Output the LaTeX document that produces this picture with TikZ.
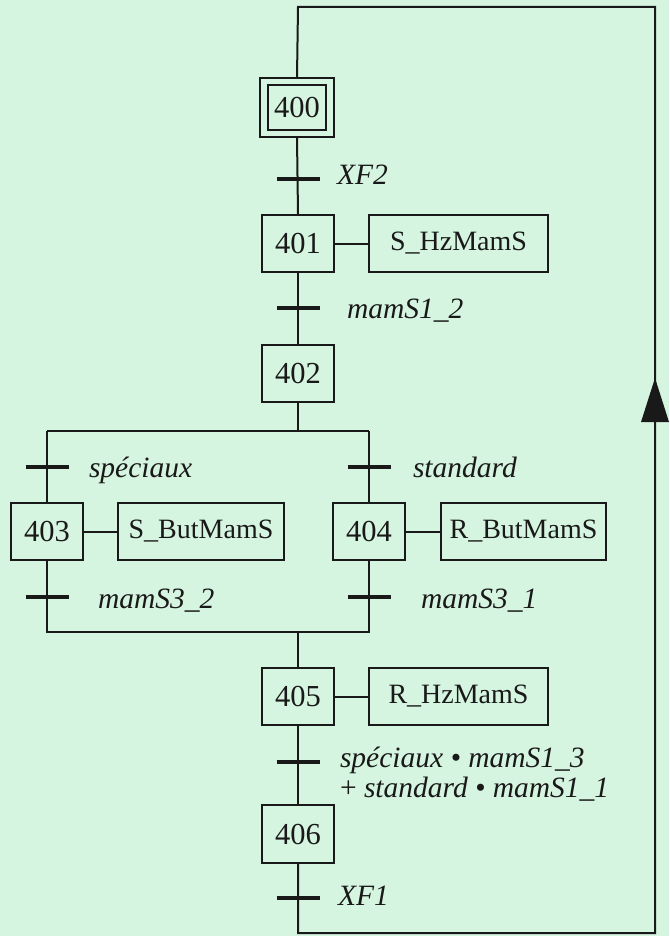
\documentclass[tikz,border=0pt]{standalone}
\usepackage{fontspec}
\setmainfont{Liberation Serif}
\definecolor{bg}{RGB}{214,245,224}
\definecolor{ink}{RGB}{25,25,25}
\begin{document}
\begin{tikzpicture}[x=1pt,y=-1pt, line width=2pt, ink,
  every node/.style={font=\fontsize{28}{30}\selectfont},
  stepbox/.style={draw, rectangle, minimum width=72pt, minimum height=57pt, inner sep=0pt, font=\fontsize{30.5}{32}\selectfont},
  actbox/.style={draw, rectangle, minimum height=57pt, inner sep=0pt},
  trbar/.style={line width=4.8pt},
  lbl/.style={anchor=base west, inner sep=0pt, font=\fontsize{29.5}{32}\selectfont\itshape}]

\fill[bg] (0,0) rectangle (669,936);
\useasboundingbox (0,0) rectangle (669,936);

% steps and actions
\node[stepbox, minimum width=74pt, minimum height=59pt] (s400) at (297,107.5) {};
\node[stepbox, minimum width=58pt, minimum height=45pt] (s400i) at (297,107.5) {400};
\node[stepbox] (s401) at (298,243.5) {401};
\node[actbox, minimum width=179pt] (a401) at (458.5,243.5) {S\_HzMamS};
\node[stepbox] (s402) at (298,373.5) {402};
\node[stepbox] (s403) at (47,531.5) {403};
\node[actbox, minimum width=166pt] (a403) at (201,531.5) {S\_ButMamS};
\node[stepbox] (s404) at (369,531.5) {404};
\node[actbox, minimum width=165pt] (a404) at (523.5,531.5) {R\_ButMamS};
\node[stepbox] (s405) at (298,696.5) {405};
\node[actbox, minimum width=179pt] (a405) at (458.5,696.5) {R\_HzMamS};
\node[stepbox, minimum height=58pt] (s406) at (298,834) {406};

% connectors
\draw (s400.south) -- (s401.north);
\draw (s401) -- (a401);
\draw (s401.south) -- (s402.north);
\coordinate (dl) at (47,431);
\coordinate (dr) at (369,431);
\draw (s402.south) -- (s402.south |- dl);
\draw (dl) -- (dr);
\draw (dl) -- (s403.north);
\draw (dr) -- (s404.north);
\draw (s403) -- (a403);
\draw (s404) -- (a404);
\coordinate (cl) at (47,632);
\coordinate (cr) at (369,632);
\draw (s403.south) -- (cl) -- (cr) -- (s404.south);
\draw (s405.north |- cl) -- (s405.north);
\draw (s405) -- (a405);
\draw (s405.south) -- (s406.north);
\coordinate (lb) at (298,933);
\coordinate (rb) at (655,933);
\coordinate (rt) at (655,7);
\coordinate (lt) at (298,7);
\draw (s406.south) -- (lb) -- (rb) -- (rt) -- (lt) -- (s400.north);
\coordinate (arr) at (655,378);
\fill ([xshift=-14pt,yshift=-44pt]arr) -- ([xshift=14pt,yshift=-44pt]arr) -- (arr) -- cycle;

% transitions
\foreach \n/\x/\y in {t1/298/179, t2/298/308, t3/47/467, t4/369/467, t5/47/597, t6/369/597, t7/298/762, t8/298/898}{
  \coordinate (\n) at (\x,\y);
  \draw[trbar] ([xshift=-21.5pt]\n) -- ([xshift=21.5pt]\n);
}

% labels
\node[lbl] (l1) at (336,184) {XF2};
\node[lbl] (l2) at (346,318) {mamS1\_2};
\node[lbl] (l3) at (88,477) {spéciaux};
\node[lbl] (l4) at (412,477) {standard};
\node[lbl] (l5) at (97,608) {mamS3\_2};
\node[lbl] (l6) at (420,608) {mamS3\_1};
\node[lbl] (l7) at (339,767) {spéciaux • mamS1\_3};
\node[lbl] (l8) at (339,797) {\upshape+ \itshape standard • mamS1\_1};
\node[lbl] (l9) at (337,905) {XF1};
\end{tikzpicture}
\end{document}
